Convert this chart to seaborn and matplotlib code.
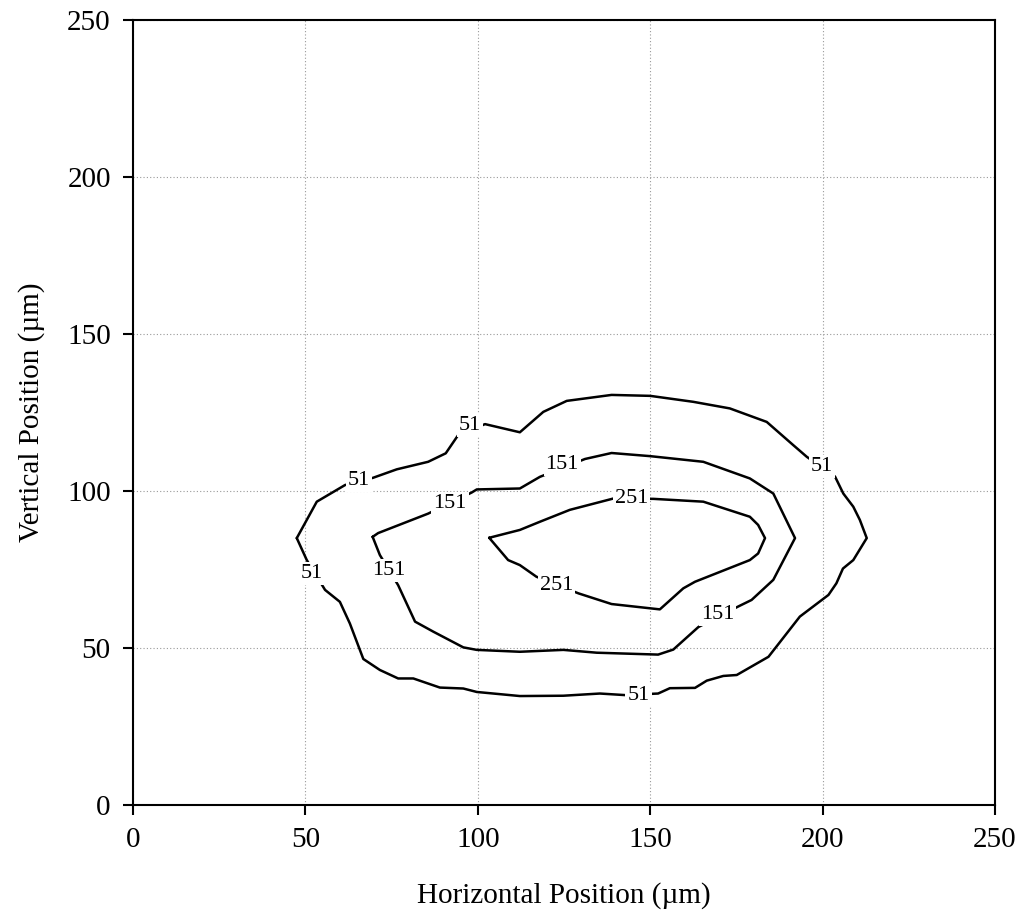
import matplotlib
matplotlib.use("Agg")
import matplotlib.pyplot as plt
import seaborn as sns
import pandas as pd

# Contour level 51 (closed polyline, µm)
c51_x = [47.5, 53.3, 61.5, 69.6, 76.5, 85.6, 90.7, 94.3, 102.1, 112.2, 119.0, 125.8, 138.8, 150.0,
         162.5, 173.1, 183.8, 191.5, 195.4, 203.6, 206.0, 208.9, 210.8, 212.8, 208.9, 205.9, 204.0,
         201.7, 193.4, 184.3, 175.1, 171.2, 166.4, 163.0, 155.7, 152.3, 142.7, 135.4, 124.8, 112.2,
         99.7, 95.8, 89.0, 81.3, 76.9, 71.6, 66.8, 62.9, 60.0, 55.7, 50.4, 47.5]
c51_y = [85.0, 96.6, 101.9, 104.2, 106.9, 109.3, 112.0, 117.8, 121.3, 118.7, 125.2, 128.7, 130.6, 130.3,
         128.4, 126.3, 122.0, 114.6, 110.9, 104.6, 99.2, 95.0, 90.8, 85.0, 78.0, 75.3, 70.6,
         66.9, 60.0, 47.2, 41.4, 41.1, 39.6, 37.3, 37.2, 35.5, 35.0, 35.5, 34.8, 34.7,
         36.0, 37.1, 37.4, 40.3, 40.3, 43.0, 46.5, 57.8, 64.7, 68.5, 78.0, 85.0]

# Contour level 151
c151_x = [69.5, 71.1, 85.6, 98.2, 99.7, 112.2, 118.0, 131.1, 138.8, 150.0, 165.4, 178.9, 185.7, 192.0,
          185.7, 179.4, 175.5, 164.0, 156.7, 152.3, 134.5, 124.8, 112.2, 99.7, 95.8, 87.1, 81.8, 76.9,
          71.6, 69.5]
c151_y = [85.4, 86.6, 92.8, 99.5, 100.5, 100.8, 104.5, 110.2, 112.1, 111.1, 109.3, 104.0, 99.2, 85.0,
          71.7, 65.3, 63.2, 56.7, 49.5, 47.9, 48.5, 49.4, 48.8, 49.4, 50.2, 55.2, 58.4, 70.0,
          79.6, 85.4]

# Contour level 251
c251_x = [103.3, 112.2, 118.0, 126.7, 139.3, 150.9, 165.4, 178.9, 181.3, 183.3, 181.3, 178.9, 163.0,
          159.6, 152.8, 138.8, 129.2, 117.0, 112.2, 108.8, 103.3]
c251_y = [85.1, 87.6, 90.2, 94.0, 97.6, 97.5, 96.6, 91.8, 89.2, 85.0, 80.1, 78.0, 71.1,
          69.0, 62.3, 64.0, 67.4, 72.7, 76.4, 78.0, 85.1]

# Inline contour labels
label_text = ["51", "51", "51", "51", "51", "151", "151", "151", "151", "251", "251"]
label_x = [65.6, 97.7, 199.9, 52.0, 146.6, 91.9, 124.5, 74.2, 169.5, 144.6, 122.9]
label_y = [103.2, 121.0, 107.7, 73.6, 35.0, 96.1, 108.3, 74.6, 60.8, 97.5, 69.8]

ticks = [0, 50, 100, 150, 200, 250]

sns.set_style("white")
plt.rcParams["font.family"] = ["Liberation Serif", "DejaVu Serif"]
plt.rcParams["text.color"] = "black"
plt.rcParams["axes.labelcolor"] = "black"

fig = plt.figure(figsize=(10.26, 9.22), dpi=100)
ax = fig.add_axes([133 / 1026, 117 / 922, 862 / 1026, 785 / 922])

frames = []
for lvl, xs, ys in [("51", c51_x, c51_y), ("151", c151_x, c151_y), ("251", c251_x, c251_y)]:
    frames.append(pd.DataFrame({"x": xs, "y": ys, "level": lvl, "order": range(len(xs))}))
df = pd.concat(frames, ignore_index=True)

sns.lineplot(data=df, x="x", y="y", units="level", estimator=None, sort=False,
             color="black", linewidth=1.8, ax=ax, zorder=3)

for t, lx, ly in zip(label_text, label_x, label_y):
    ax.text(lx, ly, t, ha="center", va="center", fontsize=16, color="black", zorder=5,
            bbox=dict(facecolor="white", edgecolor="none", pad=1.5))

ax.set_xlim(0, 250)
ax.set_ylim(0, 250)
ax.set_xticks(ticks)
ax.set_yticks(ticks)
ax.set_xticklabels([str(t) for t in ticks])
ax.set_yticklabels([str(t) for t in ticks])
ax.grid(True, color="#999999", linestyle=(0, (1, 2)), linewidth=0.8)
ax.set_axisbelow(True)
for s in ax.spines.values():
    s.set_visible(True)
    s.set_color("black")
    s.set_linewidth(1.5)
ax.tick_params(axis="both", direction="out", length=7, width=1.5, colors="black",
               labelsize=21, pad=9, bottom=True, left=True)
ax.set_xlabel("Horizontal Position (µm)", fontsize=21, labelpad=21)
ax.set_ylabel("Vertical Position (µm)", fontsize=21, labelpad=16)

fig.savefig("out.png", dpi=100)
